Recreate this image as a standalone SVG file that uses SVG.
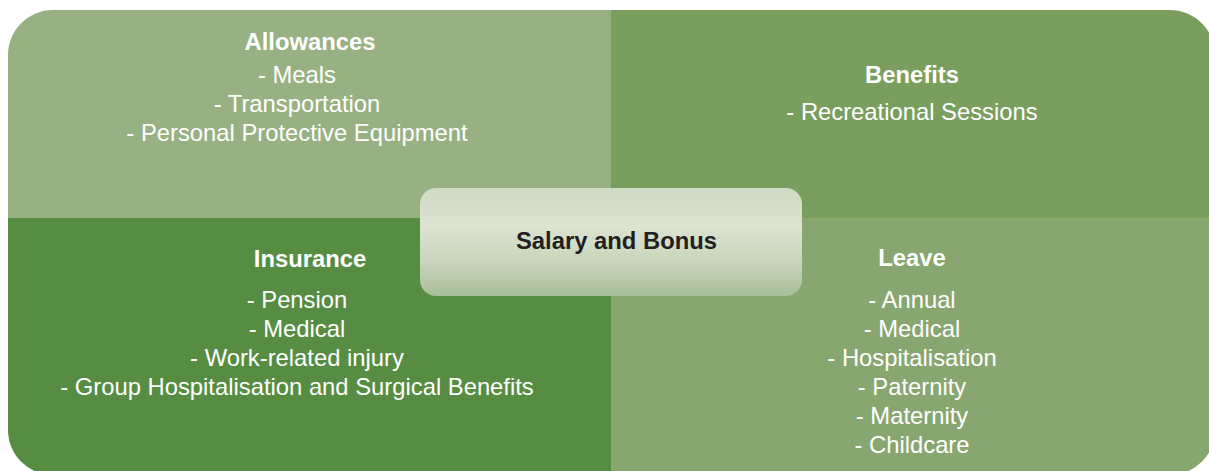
<svg xmlns="http://www.w3.org/2000/svg" width="1209" height="471" viewBox="0 0 1209 471">
  <defs>
    <clipPath id="outer">
      <path d="M53,10 H1170 A45,45 0 0 1 1215,55 V430 A45,45 0 0 1 1170,475 H53 A45,45 0 0 1 8,430 V55 A45,45 0 0 1 53,10 Z"/>
    </clipPath>
    <linearGradient id="centerGrad" x1="0" y1="0" x2="0" y2="1">
      <stop offset="0" stop-color="#D0DAC5"/>
      <stop offset="0.36" stop-color="#DCE3D1"/>
      <stop offset="0.7" stop-color="#C7D4BB"/>
      <stop offset="1" stop-color="#A9BE98"/>
    </linearGradient>
  </defs>
  <style>
    text { font-family: "Liberation Sans", Arial, sans-serif; font-size: 23.8px; text-anchor: middle; }
    .w { fill: #FFFFFF; }
    .t { font-weight: bold; }
    .c { fill: #231F20; font-weight: bold; }
  </style>
  <rect width="1209" height="471" fill="#FFFFFF"/>
  <g clip-path="url(#outer)">
    <g id="allowances">
      <rect x="0" y="0" width="611" height="218" fill="#97B183"/>
      <text class="w t" x="310" y="50">Allowances</text>
      <text class="w" x="297" y="83">- Meals</text>
      <text class="w" x="297" y="112">- Transportation</text>
      <text class="w" x="297" y="141">- Personal Protective Equipment</text>
    </g>
    <g id="benefits">
      <rect x="611" y="0" width="620" height="218" fill="#7A9E5E"/>
      <text class="w t" x="912" y="83">Benefits</text>
      <text class="w" x="912" y="120">- Recreational Sessions</text>
    </g>
    <g id="insurance">
      <rect x="0" y="218" width="611" height="270" fill="#568D43"/>
      <text class="w t" x="310" y="267">Insurance</text>
      <text class="w" x="297" y="308">- Pension</text>
      <text class="w" x="297" y="337">- Medical</text>
      <text class="w" x="297" y="366">- Work-related injury</text>
      <text class="w" x="297" y="395">- Group Hospitalisation and Surgical Benefits</text>
    </g>
    <g id="leave">
      <rect x="611" y="218" width="620" height="270" fill="#88A670"/>
      <text class="w t" x="912" y="266">Leave</text>
      <text class="w" x="912" y="308">- Annual</text>
      <text class="w" x="912" y="337">- Medical</text>
      <text class="w" x="912" y="366">- Hospitalisation</text>
      <text class="w" x="912" y="395">- Paternity</text>
      <text class="w" x="912" y="424">- Maternity</text>
      <text class="w" x="912" y="453">- Childcare</text>
    </g>
  </g>
  <g id="salary">
    <rect x="420" y="188" width="382" height="108" rx="16" ry="16" fill="url(#centerGrad)"/>
    <text class="c" x="616.5" y="249">Salary and Bonus</text>
  </g>
</svg>
